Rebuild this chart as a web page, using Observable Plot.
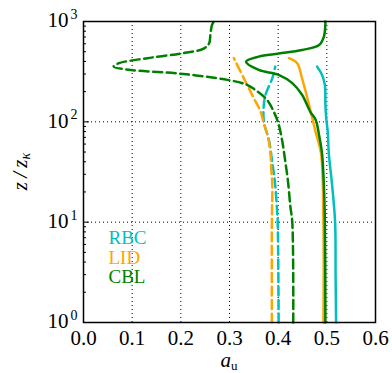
<!DOCTYPE html>
<html><head><meta charset="utf-8">
<script src="https://cdn.jsdelivr.net/npm/d3@7"></script>
<script src="https://cdn.jsdelivr.net/npm/@observablehq/plot@0.6"></script>
<style>body{margin:0;background:#fff} svg, svg text{font-family:"Liberation Serif","DejaVu Serif",serif !important}</style>
</head><body><div id="chart"></div>
<script>
// ---- data ----
const rbcSolidZ = [1, 3, 10, 23, 49, 79, 105, 150, 233, 294, 355];
const rbcSolidA = [0.519, 0.518, 0.517, 0.511, 0.504, 0.502, 0.499, 0.497, 0.496, 0.490, 0.480];
const rbcDashZ = [1, 10, 15, 26, 39, 66, 98, 137, 186, 272, 355];
const rbcDashA = [0.401, 0.399, 0.397, 0.393, 0.388, 0.381, 0.371, 0.370, 0.374, 0.388, 0.394];
const lidSolidZ = [1, 10, 49, 79, 109, 172, 272, 384, 431];
const lidSolidA = [0.493, 0.493, 0.488, 0.477, 0.470, 0.460, 0.449, 0.439, 0.422];
const lidDashZ = [1, 10, 23, 33, 49, 71, 98, 126, 172, 251, 431];
const lidDashA = [0.387, 0.387, 0.388, 0.386, 0.384, 0.379, 0.370, 0.364, 0.350, 0.333, 0.309];
const cblSolidZ = [1, 10, 23, 49, 74, 105, 126, 186, 243, 294, 329, 398, 447, 479, 520, 583, 708, 955, 1000];
const cblSolidA = [0.497, 0.496, 0.494, 0.490, 0.484, 0.477, 0.466, 0.449, 0.429, 0.401, 0.360, 0.334, 0.360, 0.401, 0.449, 0.484, 0.494, 0.497, 0.497];
const cblDashZ = [1, 10, 14.4, 26, 39, 66, 98, 126, 166, 208, 234, 262, 302, 329, 355, 384, 431, 479, 537, 603, 759, 923, 1000];
const cblDashA = [0.431, 0.429, 0.425, 0.420, 0.415, 0.408, 0.400, 0.391, 0.377, 0.353, 0.336, 0.296, 0.199, 0.097, 0.062, 0.073, 0.131, 0.199, 0.247, 0.258, 0.261, 0.264, 0.268];

const legendNames = ["RBC", "LID", "CBL"];
const colors = ["#00bfbf", "#ffa500", "#008000"];
const xTicks = [0, 0.1, 0.2, 0.3, 0.4, 0.5, 0.6];
const xTickLabels = ["0.0", "0.1", "0.2", "0.3", "0.4", "0.5", "0.6"];
const yTicks = [1, 10, 100, 1000];
const yTickExps = ["0", "1", "2", "3"];
const gridX = [0.1, 0.2, 0.3, 0.4, 0.5];
const gridY = [10, 100];
const minorY = [2, 3, 4, 5, 6, 7, 8, 9, 20, 30, 40, 50, 60, 70, 80, 90, 200, 300, 400, 500, 600, 700, 800, 900];

// ---- build tables ----
const series = [
  {name: "RBC", dash: false, z: rbcSolidZ, a: rbcSolidA},
  {name: "RBC", dash: true, z: rbcDashZ, a: rbcDashA},
  {name: "LID", dash: false, z: lidSolidZ, a: lidSolidA},
  {name: "LID", dash: true, z: lidDashZ, a: lidDashA},
  {name: "CBL", dash: false, z: cblSolidZ, a: cblSolidA},
  {name: "CBL", dash: true, z: cblDashZ, a: cblDashA}
];
const colorOf = n => colors[legendNames.indexOf(n)];

const W = 392, H = 373, mL = 83, mR = 17, mT = 21, mB = 51;
const innerW = W - mL - mR;
const FONT = '"Liberation Serif", "DejaVu Serif", serif';

const lineMarks = series.map(s => Plot.line(s.z.map((z, i) => ({z, a: s.a[i]})), {
  x: "a", y: "z", stroke: colorOf(s.name), strokeWidth: 2.5,
  strokeDasharray: s.dash ? "9,4.5" : null, curve: "catmull-rom"
}));

const chart = Plot.plot({
  width: W, height: H,
  marginLeft: mL, marginRight: mR, marginTop: mT, marginBottom: mB,
  style: {background: "#fff"},
  x: {domain: [0, 0.6], axis: null},
  y: {type: "log", domain: [1, 1000], axis: null},
  marks: [
    Plot.ruleX(gridX, {stroke: "#000", strokeWidth: 1, strokeDasharray: "1,3"}),
    Plot.ruleY(gridY, {stroke: "#000", strokeWidth: 1, strokeDasharray: "1,3"}),
    Plot.tickY(minorY, {y: d => d, stroke: "#000", strokeWidth: 1, insetRight: innerW - 3}),
    Plot.tickY(yTicks, {y: d => d, stroke: "#000", strokeWidth: 1, insetRight: innerW - 6}),
    ...lineMarks,
    Plot.frame({stroke: "#000", strokeWidth: 1.5}),
    Plot.text(xTicks, {x: d => d, frameAnchor: "bottom", lineAnchor: "top", dy: 8,
      text: (d, i) => xTickLabels[i], fontSize: 21, fill: "#000"}),
    Plot.text(yTicks, {y: d => d, frameAnchor: "left", textAnchor: "end", dx: -15, dy: -1,
      text: () => "10", fontSize: 21, fill: "#000"}),
    Plot.text(yTicks, {y: d => d, frameAnchor: "left", textAnchor: "end", dx: -6, dy: -7,
      text: (d, i) => yTickExps[i], fontSize: 14, fill: "#000"}),
    ...legendNames.map((n, i) => Plot.text([n], {
      frameAnchor: "bottom-left", textAnchor: "start", lineAnchor: "bottom",
      dx: 25, dy: [-78.7, -58.7, -39.7][i], text: d => d, fontSize: 19, fill: colors[i]
    }))
  ]
});

const svg = d3.select(chart);
// x label a_u
const xl = svg.append("text").attr("x", mL + innerW / 2).attr("y", 367)
  .attr("text-anchor", "middle").attr("font-size", 21).attr("fill", "#000");
xl.append("tspan").attr("font-style", "italic").text("a");
xl.append("tspan").attr("font-size", 13).attr("dy", 2.5).text("u");
// y label z / z_kappa
const yl = svg.append("text").attr("transform", `translate(27,${mT + (H - mT - mB) / 2}) rotate(-90)`)
  .attr("text-anchor", "middle").attr("font-size", 21).attr("fill", "#000");
yl.append("tspan").attr("font-style", "italic").text("z\u2009/\u2009z");
yl.append("tspan").attr("font-style", "italic").attr("font-size", 14).attr("dy", 3).text("κ");

svg.attr("font-family", FONT).style("font-family", FONT);
svg.selectAll("text").attr("font-family", FONT).style("font-family", FONT);

document.getElementById("chart").appendChild(chart);
</script>
</body></html>
